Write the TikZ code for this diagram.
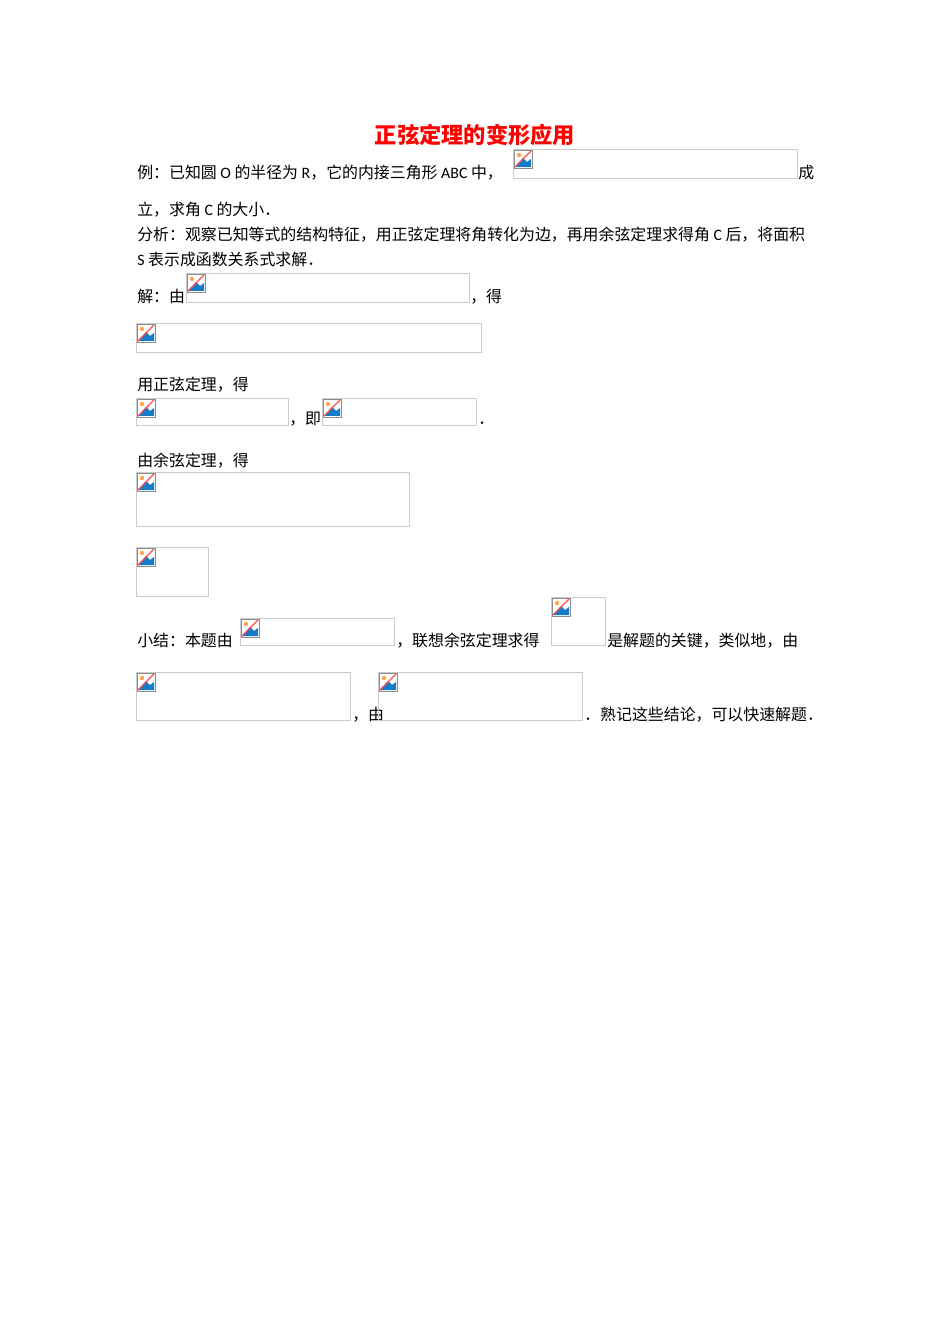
\documentclass[tikz,border=0pt]{standalone}
\usepackage{fontspec}
\setmainfont{Noto Sans CJK SC}
\newfontfamily\latfont{Carlito}
\newcommand{\lat}[1]{{\latfont #1}}
\usetikzlibrary{positioning}
\tikzset{
  txt/.style={anchor=base west,inner sep=0pt,font=\fontsize{10pt}{12pt}\selectfont},
  imgbox/.style={draw=black!20,line width=0.5pt,anchor=north west,inner sep=0pt},
  title/.style={anchor=base,inner sep=0pt,text=red,font=\fontsize{14pt}{16pt}\selectfont\bfseries}
}
% broken image placeholder: name, x1, y1, x2, y2 (px)
\newcommand{\phbox}[5]{%
  \node[imgbox,minimum width={(#4-#2)*0.0221cm},minimum height={(#5-#3)*0.0221cm}] (#1) at (#2,#3) {};
  \draw[black!45,fill=white] (#2+1,#3+1) rectangle (#2+19,#3+19);
  \fill[cyan!60!blue] (#2+2,#3+18) -- (#2+10,#3+9) -- (#2+14,#3+13) -- (#2+18,#3+10) -- (#2+18,#3+18) -- cycle;
  \fill[orange!70] (#2+6,#3+6) circle (2.2);
  \draw[red!70,line width=0.8pt] (#2+2,#3+18) -- (#2+18,#3+2);
}
\begin{document}
\begin{tikzpicture}[x=0.0221cm,y=-0.0221cm]
  \useasboundingbox (0,0) rectangle (950,1344);
  \node[title] (ttl) at (475,144) {正弦定理的变形应用};
  % example
  \node[txt] (l1) at (137,179) {例：已知圆 \lat{O} 的半径为 \lat{R}，它的内接三角形 \lat{ABC} 中，};
  \phbox{b1}{513}{149}{797}{178}
  \node[txt] (l1b) at (798,179) {成};
  \node[txt] (l2) at (137,216) {立，求角 \lat{C} 的大小．};
  \node[txt] (l3) at (137,241) {分析：观察已知等式的结构特征，用正弦定理将角转化为边，再用余弦定理求得角 \lat{C} 后，将面积};
  \node[txt] (l4) at (137,266) {\lat{S} 表示成函数关系式求解．};
  % solution
  \node[txt] (l5) at (137,303) {解：由};
  \phbox{b2}{186}{273}{469}{302}
  \node[txt] (l5b) at (470,303) {，得};
  \phbox{b3}{136}{323}{481}{352}
  \node[txt] (l6) at (137,391) {用正弦定理，得};
  \phbox{b4}{136}{398}{288}{425}
  \node[txt] (l7) at (289,425) {，即};
  \phbox{b5}{322}{398}{476}{425}
  \node[txt] (l7b) at (478,425) {．};
  \node[txt] (l8) at (137,466) {由余弦定理，得};
  \phbox{b6}{136}{472}{409}{526}
  \phbox{b7}{136}{547}{208}{596}
  % summary
  \node[txt] (l9) at (137,646) {小结：本题由};
  \phbox{b8}{240}{618}{394}{645}
  \node[txt] (l9b) at (396,646) {，联想余弦定理求得};
  \phbox{b9}{551}{597}{605}{645}
  \node[txt] (l9c) at (607,646) {是解题的关键，类似地，由};
  \phbox{b10}{136}{672}{350}{720}
  \node[txt] (l10) at (352,720) {，由};
  \phbox{b11}{378}{672}{582}{720}
  \node[txt] (l10b) at (584,720) {．熟记这些结论，可以快速解题．};
\end{tikzpicture}
\end{document}
